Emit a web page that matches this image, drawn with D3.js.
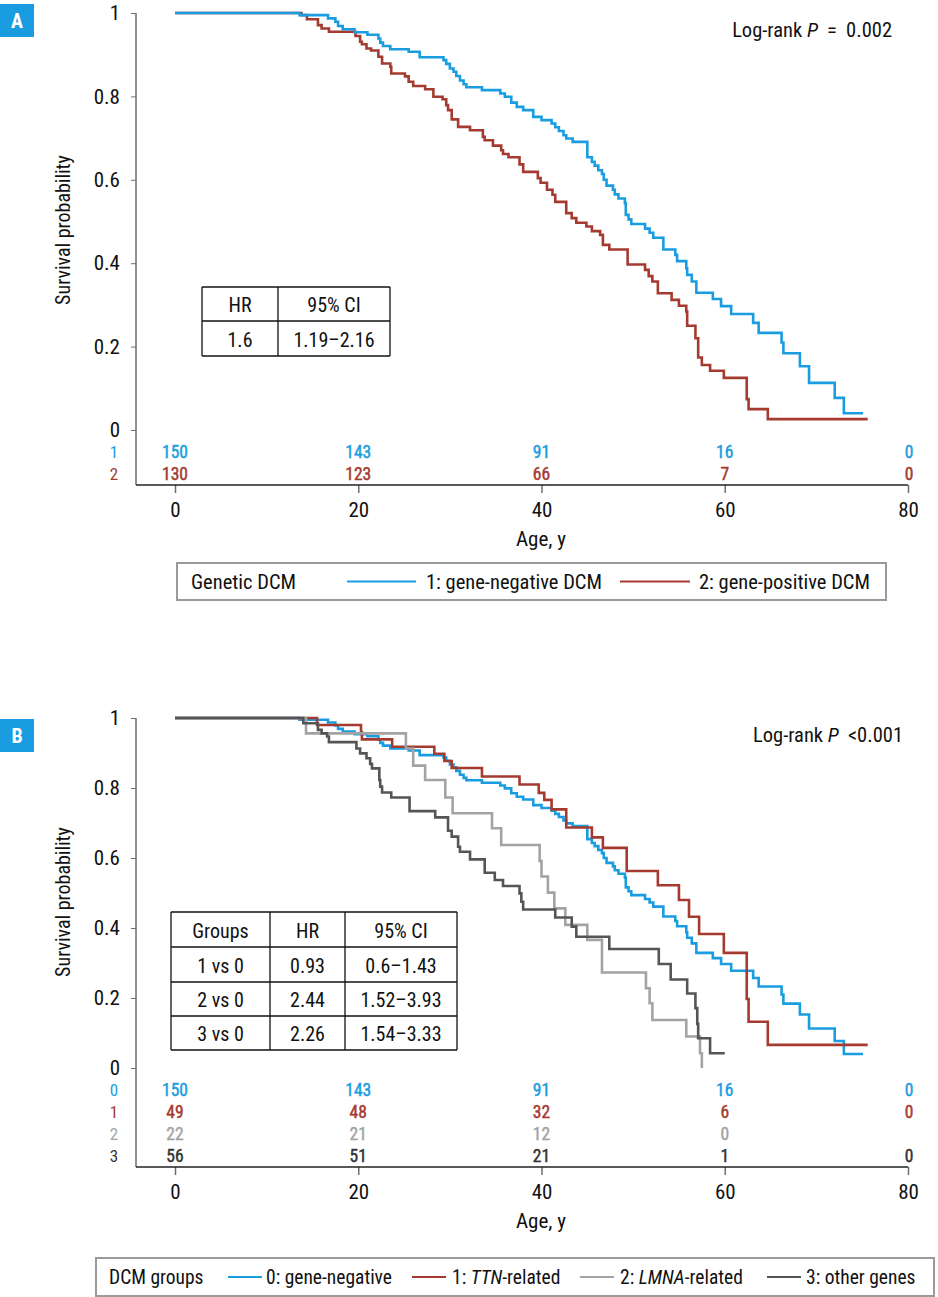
<!DOCTYPE html>
<html>
<head>
<meta charset="utf-8">
<script src="https://cdn.jsdelivr.net/npm/d3@7"></script>
<style>
html,body{margin:0;padding:0;background:#fff;}
svg{display:block;}
text{font-family:"Liberation Sans Narrow","Roboto Condensed","DejaVu Sans Condensed","Arial Narrow",sans-serif;}
</style>
</head>
<body>
<svg id="chart" width="938" height="1297"></svg>
<script>
// ---------------- DATA ----------------
const xTicks = [0, 20, 40, 60, 80];
const yTicks = [0, 0.2, 0.4, 0.6, 0.8, 1];

// Gene-negative DCM (used in A as "1" and in B as "0")
const geneNegative = [
  [0,1],[13.6,0.995],[16.7,0.987],[17.5,0.979],[17.8,0.969],[18.3,0.961],[19.6,0.954],[21.0,0.948],
  [22.2,0.939],[22.4,0.929],[22.7,0.921],[23.5,0.913],[25.5,0.907],[26.7,0.894],[29.3,0.887],[29.6,0.878],
  [30.0,0.867],[30.4,0.859],[30.7,0.849],[31.1,0.838],[31.5,0.829],[31.8,0.822],[33.5,0.815],[35.5,0.807],
  [36.0,0.799],[36.7,0.785],[37.3,0.775],[38.0,0.767],[39.1,0.751],[40.0,0.743],[41.1,0.735],[41.5,0.726],
  [41.9,0.717],[42.4,0.707],[42.7,0.699],[43.4,0.691],[45.0,0.654],[45.5,0.643],[45.8,0.634],[46.2,0.623],
  [46.6,0.614],[46.8,0.600],[47.1,0.586],[47.8,0.576],[48.0,0.565],[48.4,0.555],[49.1,0.544],[49.2,0.516],
  [49.5,0.505],[49.8,0.494],[51.3,0.483],[51.8,0.473],[52.2,0.461],[53.3,0.433],[54.6,0.420],[54.8,0.405],
  [55.8,0.388],[55.9,0.372],[56.4,0.356],[56.9,0.329],[58.7,0.314],[59.6,0.297],[60.7,0.278],[63.1,0.257],
  [63.7,0.233],[66.2,0.210],[66.4,0.184],[68.2,0.153],[69.2,0.113],[72.0,0.077],[73.0,0.040],[75.1,0.040]
];
// Gene-positive DCM (A, "2")
const genePositive = [
  [0,1],[13.8,0.995],[14.4,0.985],[15.6,0.971],[16.0,0.963],[16.8,0.955],[19.7,0.945],[20.2,0.931],
  [20.4,0.925],[20.9,0.915],[21.4,0.910],[22.2,0.895],[22.6,0.879],[23.5,0.871],[23.6,0.855],[25.1,0.848],
  [25.5,0.835],[26.0,0.825],[27.3,0.817],[28.2,0.799],[29.2,0.793],[29.6,0.779],[29.8,0.767],[30.2,0.745],
  [30.9,0.727],[32.2,0.719],[33.6,0.703],[33.8,0.695],[34.7,0.682],[35.6,0.671],[35.8,0.662],[36.4,0.654],
  [37.6,0.637],[38.0,0.619],[39.6,0.604],[39.9,0.593],[40.6,0.576],[41.2,0.564],[41.5,0.547],[42.7,0.520],
  [43.3,0.508],[43.8,0.497],[44.9,0.488],[45.5,0.477],[46.4,0.468],[46.7,0.444],[47.4,0.433],[49.4,0.397],
  [51.3,0.384],[51.7,0.369],[52.1,0.356],[52.7,0.328],[54.2,0.312],[55.0,0.298],[55.8,0.284],[55.9,0.250],
  [56.8,0.220],[57.1,0.174],[57.5,0.156],[58.4,0.142],[59.9,0.125],[62.4,0.074],[62.6,0.050],[64.7,0.026],
  [75.6,0.026]
];
// TTN-related (B, "1")
const ttnRelated = [
  [0,1],[15.5,0.980],[20.3,0.959],[20.4,0.939],[23.7,0.918],[28.3,0.898],[29.4,0.877],[30.2,0.857],
  [33.5,0.833],[37.6,0.810],[39.7,0.786],[40.3,0.766],[41.1,0.739],[42.7,0.687],[45.5,0.659],[46.7,0.629],
  [49.3,0.563],[52.7,0.522],[55.0,0.480],[56.1,0.432],[57.2,0.383],[59.9,0.329],[62.4,0.197],[62.6,0.132],
  [64.7,0.066],[75.6,0.066]
];
// LMNA-related (B, "2")
const lmnaRelated = [
  [0,1],[14.3,0.956],[25.2,0.913],[26.0,0.864],[27.3,0.823],[29.5,0.773],[30.3,0.728],[34.6,0.685],
  [35.6,0.637],[39.8,0.591],[40.0,0.547],[40.7,0.501],[41.4,0.456],[42.6,0.409],[45.0,0.366],[46.6,0.273],
  [51.4,0.228],[51.8,0.185],[52.1,0.137],[55.8,0.090],[57.3,0.042],[57.5,0.000],[57.5,0.000]
];
// Other genes (B, "3")
const otherGenes = [
  [0,1],[14.0,0.985],[15.6,0.966],[16.0,0.956],[16.6,0.947],[16.8,0.931],[19.8,0.913],[20.2,0.899],
  [20.9,0.885],[21.3,0.869],[21.5,0.856],[22.3,0.823],[22.4,0.804],[22.6,0.787],[23.6,0.773],[25.6,0.734],
  [28.4,0.716],[29.8,0.678],[30.2,0.661],[30.9,0.632],[31.1,0.618],[32.2,0.596],[33.8,0.558],[34.9,0.537],
  [35.8,0.520],[37.6,0.499],[37.8,0.475],[38.0,0.453],[41.5,0.430],[43.3,0.404],[43.8,0.375],[47.4,0.340],
  [52.8,0.297],[54.1,0.253],[55.9,0.213],[56.8,0.171],[57.0,0.126],[57.1,0.085],[58.4,0.042],[60.0,0.042]
];

// Numbers at risk
const riskAges = [0, 20, 40, 60, 80];
const riskA1 = [150, 143, 91, 16, 0];
const riskA2 = [130, 123, 66, 7, 0];
const riskB0 = [150, 143, 91, 16, 0];
const riskB1 = [49, 48, 32, 6, 0];
const riskB2 = [22, 21, 12, 0, null];
const riskB3 = [56, 51, 21, 1, 0];

// Tables
const tableAHeader = ["HR", "95% CI"];
const tableARows = [["1.6", "1.19–2.16"]];
const tableBHeader = ["Groups", "HR", "95% CI"];
const tableBRows = [["1 vs 0", "0.93", "0.6–1.43"], ["2 vs 0", "2.44", "1.52–3.93"], ["3 vs 0", "2.26", "1.54–3.33"]];

// Colours
const C_BLUE = "#1a9de0", C_RED = "#a53a30", C_GRAY = "#a3a3a3", C_DARK = "#555555";

// ---------------- DRAW ----------------
const svg = d3.select("#chart");
const x = d3.scaleLinear().domain([0, 80]).range([175, 908]);
const axisColor = "#6e6e6e";
const FONT = '"Liberation Sans Narrow","Roboto Condensed","DejaVu Sans Condensed",sans-serif';

function panel(opts) {
  const g = svg.append("g");
  const y = d3.scaleLinear().domain([0, 1]).range([opts.y0, opts.y1]);
  // letter box
  g.append("rect").attr("x", 0).attr("y", opts.boxY).attr("width", 34).attr("height", 33).attr("fill", C_BLUE);
  g.append("text").attr("x", 17).attr("y", opts.boxY + 17).attr("text-anchor", "middle").attr("dominant-baseline", "central")
    .attr("fill", "#fff").attr("font-weight", "bold").attr("font-size", 20).text(opts.letter);

  // y axis
  const ya = g.append("g").attr("transform", `translate(136,0)`)
    .call(d3.axisLeft(y).tickValues(yTicks).tickSize(5).tickSizeOuter(0).tickFormat(d3.format("~g")));
  ya.select(".domain").remove();
  ya.selectAll(".tick line").attr("stroke", axisColor);
  ya.selectAll(".tick text").attr("font-size", 21).attr("fill", "#111").attr("x", -16).style("font-family", FONT);
  g.append("line").attr("x1", 136).attr("x2", 136).attr("y1", opts.y1).attr("y2", opts.axisY).attr("stroke", axisColor).attr("stroke-width", 1.5);

  // x axis
  const xa = g.append("g").attr("transform", `translate(0,${opts.axisY})`)
    .call(d3.axisBottom(x).tickValues(xTicks).tickSize(8).tickSizeOuter(0).tickFormat(d3.format("d")));
  xa.select(".domain").remove();
  xa.selectAll(".tick line").attr("stroke", axisColor).attr("stroke-width", 1.5);
  xa.selectAll(".tick text").attr("font-size", 21).attr("fill", "#111").attr("y", 17).style("font-family", FONT);
  g.append("line").attr("x1", 136).attr("x2", 908).attr("y1", opts.axisY).attr("y2", opts.axisY).attr("stroke", "#222").attr("stroke-width", 1.5);

  g.append("text").attr("x", 541).attr("y", opts.axisY + 54).attr("text-anchor", "middle").attr("dominant-baseline", "central")
    .attr("font-size", 21).attr("fill", "#111").text("Age, y");
  g.append("text").attr("transform", `translate(63,${opts.labelY}) rotate(-90)`).attr("text-anchor", "middle")
    .attr("dominant-baseline", "central").attr("font-size", 20).attr("fill", "#111").text("Survival probability");

  // curves
  const line = d3.line().x(d => x(d[0])).y(d => y(d[1])).curve(d3.curveStepAfter);
  opts.series.forEach(s => {
    g.append("path").datum(s.data).attr("d", line).attr("fill", "none").attr("stroke", s.color).attr("stroke-width", 2.6);
  });

  // risk table
  opts.risk.forEach((r, i) => {
    const ry = opts.riskY[i];
    g.append("text").attr("x", 114).attr("y", ry).attr("text-anchor", "middle").attr("dominant-baseline", "central")
      .attr("font-size", 17).attr("fill", r.color).text(r.label);
    g.selectAll(null).data(r.values.map((v, j) => [riskAges[j], v]).filter(d => d[1] !== null)).enter()
      .append("text").attr("x", d => x(d[0]) + (d[0] === 80 ? 1 : 0)).attr("y", ry)
      .attr("text-anchor", "middle").attr("dominant-baseline", "central")
      .attr("font-size", 17.5).attr("fill", r.color).attr("stroke", r.color).attr("stroke-width", 0.45).text(d => d[1]);
  });

  // log-rank
  const lr = g.append("text").attr("x", opts.lrX).attr("y", opts.lrY).attr("text-anchor", "end")
    .attr("dominant-baseline", "central").attr("font-size", 20.5).attr("fill", "#111");
  lr.append("tspan").text("Log-rank ");
  lr.append("tspan").attr("font-style", "italic").text("P");
  lr.append("tspan").text(opts.lrText);
  return y;
}

function table(t) {
  const g = svg.append("g");
  const nRows = t.rows.length + 1;
  const rows = [t.header].concat(t.rows);
  rows.forEach((row, ri) => {
    row.forEach((cell, ci) => {
      const cx = (t.cols[ci] + t.cols[ci + 1]) / 2;
      const cy = (t.rowsY[ri] + t.rowsY[ri + 1]) / 2;
      g.append("text").attr("x", cx).attr("y", cy + 1).attr("text-anchor", "middle").attr("dominant-baseline", "central")
        .attr("font-size", 20).attr("fill", "#111").text(cell);
    });
  });
  t.rowsY.forEach(yy => g.append("line").attr("x1", t.cols[0]).attr("x2", t.cols[t.cols.length - 1]).attr("y1", yy).attr("y2", yy).attr("stroke", "#111").attr("stroke-width", 1.3));
  t.cols.forEach(xx => g.append("line").attr("x1", xx).attr("x2", xx).attr("y1", t.rowsY[0]).attr("y2", t.rowsY[nRows]).attr("stroke", "#111").attr("stroke-width", 1.3));
}

function legend(l) {
  const g = svg.append("g");
  g.append("rect").attr("x", l.x0).attr("y", l.y0).attr("width", l.x1 - l.x0).attr("height", l.h)
    .attr("fill", "#fff").attr("stroke", "#9a9a9a").attr("stroke-width", 2);
  const cy = l.y0 + l.h / 2;
  g.append("text").attr("x", l.titleX).attr("y", cy).attr("dominant-baseline", "central").attr("font-size", l.fs).attr("fill", "#111").text(l.title);
  l.items.forEach(it => {
    g.append("line").attr("x1", it.lx0).attr("x2", it.lx1).attr("y1", cy).attr("y2", cy).attr("stroke", it.color).attr("stroke-width", 2.2);
    const t = g.append("text").attr("x", it.tx).attr("y", cy).attr("dominant-baseline", "central").attr("font-size", l.fs).attr("fill", "#111");
    it.parts.forEach(p => t.append("tspan").attr("font-style", p[1] ? "italic" : null).text(p[0]));
  });
}

// Panel A
panel({
  letter: "A", y0: 430, y1: 13, axisY: 485, labelY: 230, boxY: 4,
  series: [{data: genePositive, color: C_RED}, {data: geneNegative, color: C_BLUE}],
  risk: [{label: "1", color: C_BLUE, values: riskA1}, {label: "2", color: C_RED, values: riskA2}],
  riskY: [452, 474], lrX: 892, lrY: 30, lrText: "\u2002=\u20020.002"
});
table({header: tableAHeader, rows: tableARows, cols: [202, 278, 390], rowsY: [287, 321, 356]});
legend({x0: 177, x1: 886, y0: 563, h: 37, titleX: 191, title: "Genetic DCM", fs: 20.5, items: [
  {color: C_BLUE, lx0: 347, lx1: 416, tx: 426, parts: [["1: gene-negative DCM", false]]},
  {color: C_RED, lx0: 620, lx1: 690, tx: 699, parts: [["2: gene-positive DCM", false]]}
]});

// Panel B
panel({
  letter: "B", y0: 1068, y1: 718, axisY: 1167, labelY: 902, boxY: 719,
  series: [{data: geneNegative, color: C_BLUE}, {data: ttnRelated, color: C_RED}, {data: lmnaRelated, color: C_GRAY}, {data: otherGenes, color: C_DARK}],
  risk: [{label: "0", color: C_BLUE, values: riskB0}, {label: "1", color: C_RED, values: riskB1},
         {label: "2", color: C_GRAY, values: riskB2}, {label: "3", color: "#333", values: riskB3}],
  riskY: [1090, 1112, 1134, 1156], lrX: 903, lrY: 735, lrText: "\u2002<0.001"
});
table({header: tableBHeader, rows: tableBRows, cols: [171, 270, 345, 457], rowsY: [912, 947, 982, 1016, 1050]});
legend({x0: 96, x1: 934, y0: 1258, h: 38, titleX: 109, title: "DCM groups", fs: 19.5, items: [
  {color: C_BLUE, lx0: 228, lx1: 262, tx: 266, parts: [["0: gene-negative", false]]},
  {color: C_RED, lx0: 412, lx1: 446, tx: 452, parts: [["1: ", false], ["TTN", true], ["-related", false]]},
  {color: C_GRAY, lx0: 580, lx1: 614, tx: 620, parts: [["2: ", false], ["LMNA", true], ["-related", false]]},
  {color: C_DARK, lx0: 767, lx1: 801, tx: 806, parts: [["3: other genes", false]]}
]});
</script>
</body>
</html>
